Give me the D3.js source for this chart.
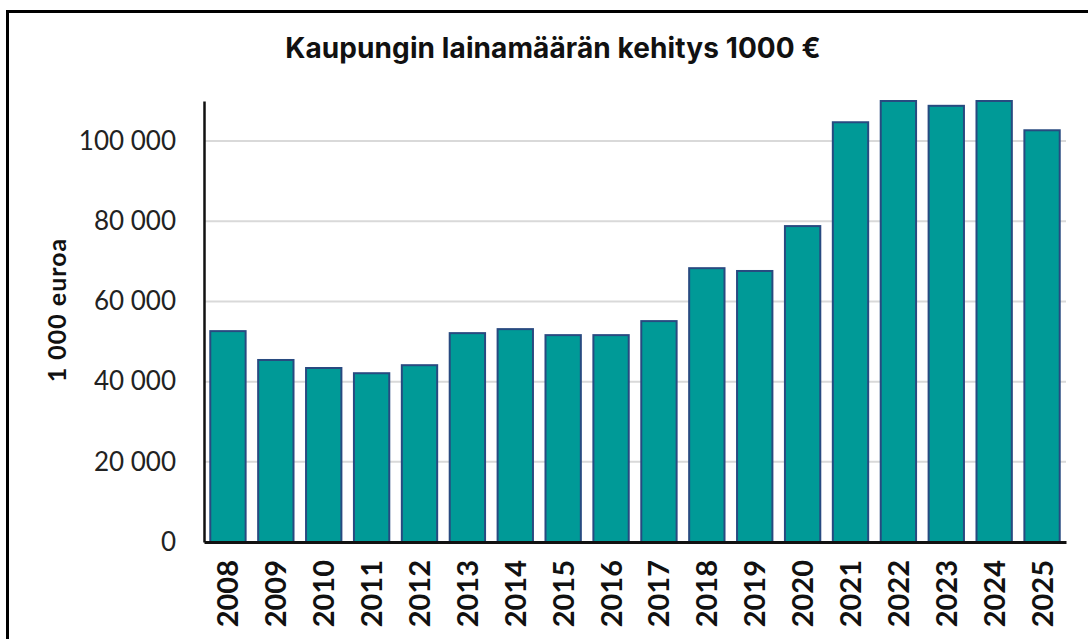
<!DOCTYPE html>
<html>
<head>
<meta charset="utf-8">
<script src="https://cdn.jsdelivr.net/npm/d3@7"></script>
<style>
	body { margin: 0; background: #fff; }
	text { font-family: "Lato", "Noto Sans", sans-serif; }
</style>
</head>
<body>
<div id="chart"></div>
<script>
// Data (1000 €)
var years = ["2008","2009","2010","2011","2012","2013","2014","2015","2016","2017",
			 "2018","2019","2020","2021","2022","2023","2024","2025"];
var loans = [52600, 45400, 43400, 42100, 44100, 52100, 53100, 51600, 51600, 55100,
			 68300, 67600, 78800, 104700, 112000, 108800, 111500, 102700];
var yTicks = [0, 20000, 40000, 60000, 80000, 100000];

var width = 1088, height = 639;
var margin = {top: 101, right: 22, bottom: 97, left: 204};

var svg = d3.select("#chart")
			.append("svg")
			.attr("width", width)
			.attr("height", height);

// outer frame (runs past the right and bottom edge)
svg.append("rect")
	.attr("x", 7.5).attr("y", 11.5)
	.attr("width", width + 20).attr("height", height + 20)
	.attr("fill", "none")
	.attr("stroke", "#000")
	.attr("stroke-width", 3);

svg.append("text")
	.attr("x", 553).attr("y", 58)
	.attr("text-anchor", "middle")
	.attr("font-size", 28)
	.attr("font-weight", 700)
	.attr("fill", "#111")
	.style("font-family", "Inter, Lato, sans-serif")
	.style("letter-spacing", "0.1px")
	.text("Kaupungin lainamäärän kehitys 1000 €");

var x = d3.scaleBand()
	.domain(years)
	.range([margin.left, width - margin.right])
	.paddingInner(0.22)
	.paddingOuter(0.11);

var y = d3.scaleLinear()
	.domain([0, 110000])
	.range([height - margin.bottom, margin.top])
	.clamp(true);

// gridlines
svg.append("g")
	.selectAll("line")
	.data(yTicks.filter(d => d > 0))
	.enter().append("line")
	.attr("x1", margin.left).attr("x2", width - margin.right)
	.attr("y1", d => y(d)).attr("y2", d => y(d))
	.attr("stroke", "#d9d9d9")
	.attr("stroke-width", 2);

// bars
svg.append("g")
	.selectAll("rect")
	.data(years)
	.enter().append("rect")
	.attr("x", d => x(d) + 1)
	.attr("width", x.bandwidth() - 2)
	.attr("y", (d, i) => y(loans[i]))
	.attr("height", (d, i) => y(0) - y(loans[i]))
	.attr("fill", "#009a97")
	.attr("stroke", "#284a80")
	.attr("stroke-width", 2);

// y axis
var yAxis = svg.append("g")
	.attr("transform", "translate(" + margin.left + ",0)")
	.call(d3.axisLeft(y).tickValues(yTicks).tickSize(0).tickPadding(28)
		.tickFormat(d => d3.format(",")(d).replace(/,/g, " ")));
yAxis.select(".domain").attr("stroke", "#111").attr("stroke-width", 2.5);
yAxis.selectAll("text")
	.attr("font-size", 26)
	.attr("fill", "#222")
	.style("font-family", "Lato, sans-serif");

// x axis
var xAxis = svg.append("g")
	.attr("transform", "translate(0," + y(0) + ")")
	.call(d3.axisBottom(x).tickSize(0).tickPadding(0));
xAxis.select(".domain").attr("stroke", "#111").attr("stroke-width", 3);
xAxis.selectAll("text")
	.attr("transform", "rotate(-90)")
	.attr("text-anchor", "end")
	.attr("x", -18)
	.attr("y", 0)
	.attr("dy", "0.36em")
	.attr("font-size", 29)
	.attr("font-weight", 700)
	.attr("fill", "#111")
	.style("font-family", "Lato, sans-serif");

// y label
svg.append("text")
	.attr("transform", "translate(66,310) rotate(-90)")
	.attr("text-anchor", "middle")
	.attr("font-size", 25)
	.attr("font-weight", 700)
	.attr("fill", "#111")
	.style("letter-spacing", "1px")
	.text("1 000 euroa");
</script>
</body>
</html>
